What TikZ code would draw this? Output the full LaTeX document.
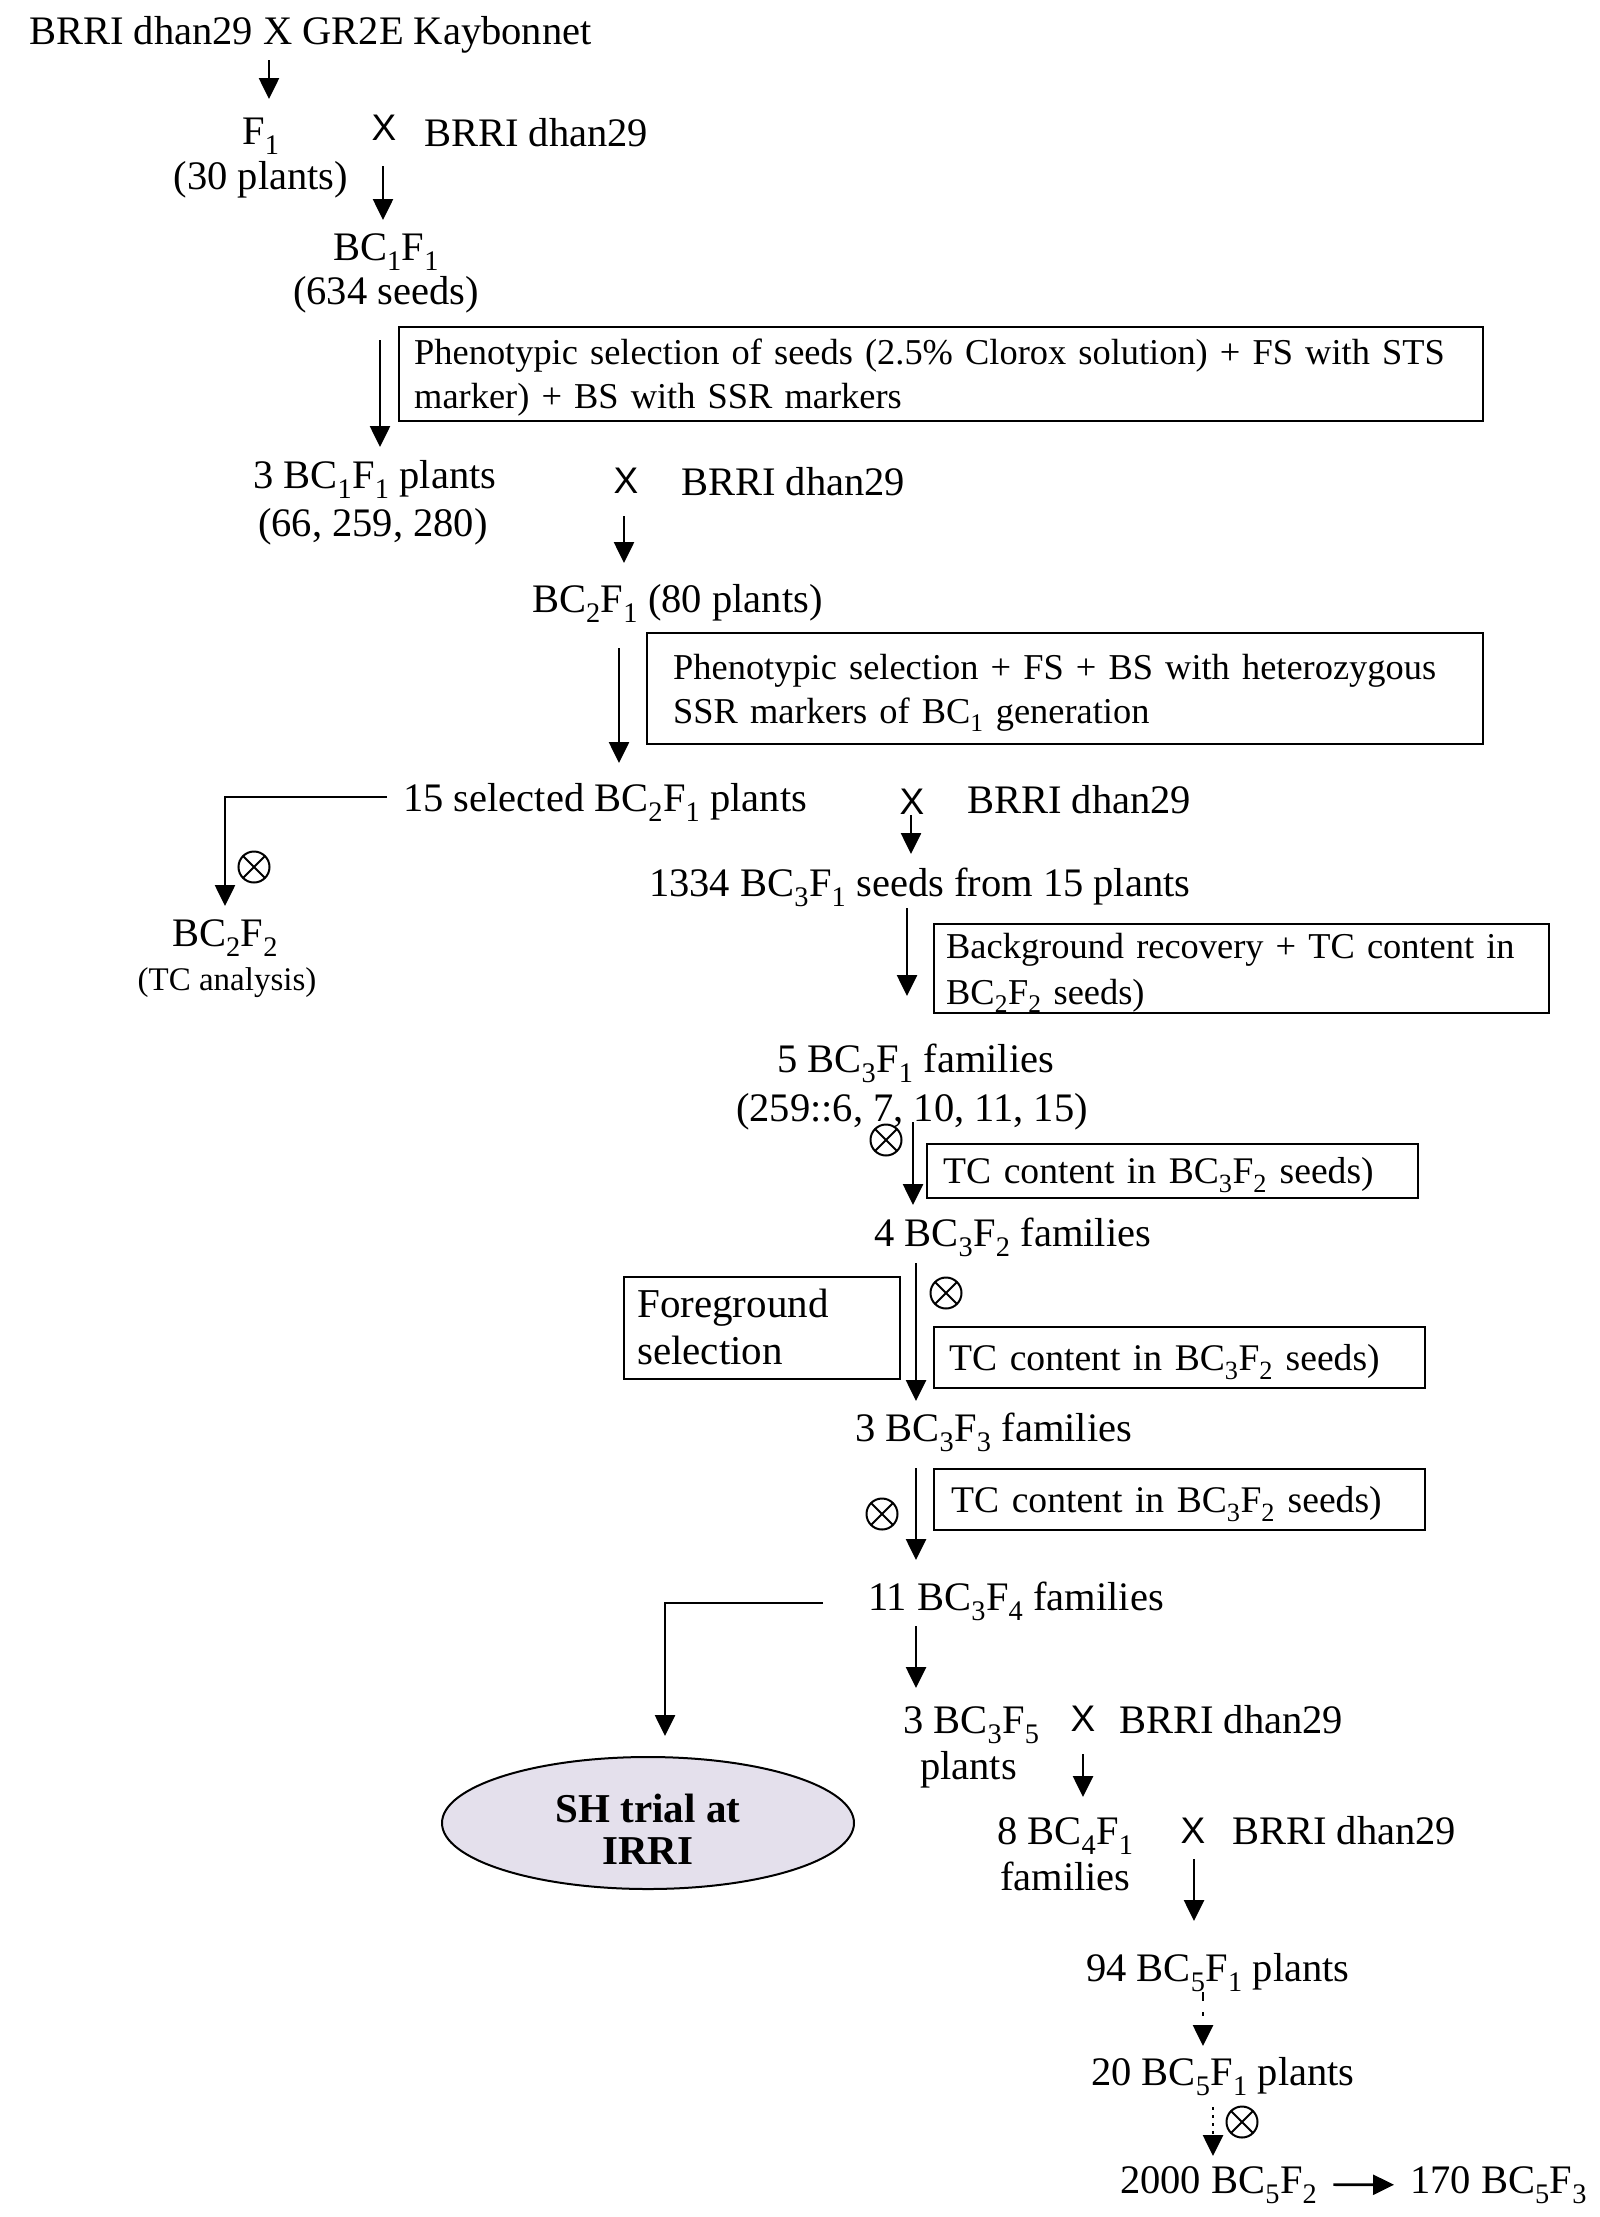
\documentclass[tikz,border=0pt]{standalone}
\usepackage{fontspec}
\setmainfont{Liberation Serif}
\newfontfamily\xsans{Liberation Sans}
\usetikzlibrary{arrows.meta,shapes.geometric,calc}
\definecolor{ellfill}{RGB}{228,224,236}
\newcommand{\sbs}[1]{\textsubscript{#1}}
\newcommand{\bst}{\rule[-9pt]{0pt}{43pt}}
\begin{document}
\begin{tikzpicture}[x=1pt,y=-1pt,
  lbl/.style={inner sep=0pt, font=\fontsize{40.5}{48}\selectfont},
  lbltwo/.style={inner sep=0pt, align=center, anchor=north},
  small/.style={inner sep=0pt, font=\fontsize{33}{38}\selectfont},
  boxa/.style={draw, line width=2.4pt, inner ysep=0pt, align=left, anchor=north west, font=\fontsize{36.4}{44}\selectfont},
  boxb/.style={boxa, font=\fontsize{37.6}{46}\selectfont},
  boxc/.style={boxa, font=\fontsize{41}{47}\selectfont},
  arr/.style={line width=2.6pt, -{Triangle[length=21pt,width=20pt]}},
  crossx/.style={inner sep=0pt, font=\xsans\fontsize{37}{38}\selectfont},
  selfing/.style={circle, draw, line width=2pt, minimum size=31pt, inner sep=0pt,
    path picture={\draw[line width=2pt] (path picture bounding box.north west) -- (path picture bounding box.south east)
      (path picture bounding box.north east) -- (path picture bounding box.south west);}},
  sh/.style={ellipse, draw, line width=2pt, fill=ellfill, minimum width=412pt, minimum height=132pt, inner sep=0pt,
    align=center, font=\bfseries\fontsize{41}{42}\selectfont}
]
\fill[white] (0,0) rectangle (1600,2217);
\useasboundingbox (0,0) rectangle (1600,2217);

% ---- top
\node[lbl, anchor=base west] (top) at (29,44) {BRRI dhan29 X GR2E Kaybonnet};
\coordinate (a1s) at (269,60); \coordinate (a1e) at (269,99);
\draw[arr] (a1s) -- (a1e);
\node[lbltwo, font=\fontsize{40.5}{45}\selectfont] (f1) at (261,114) {\rule{0pt}{30pt}F\sbs{1}\\(30 plants)};
\node[crossx] (x1) at (384,128) {X};
\node[lbl, anchor=base west] (p1) at (424,146) {BRRI dhan29};
\coordinate (a2s) at (383,166); \coordinate (a2e) at (383,220);
\draw[arr] (a2s) -- (a2e);
\node[lbltwo, font=\fontsize{40.5}{44}\selectfont] (bc1) at (386,230) {\rule{0pt}{30pt}BC\sbs{1}F\sbs{1}\\(634 seeds)};

% ---- box 1
\node[boxa, inner xsep=15pt, text width=1054pt, minimum width=1084pt, minimum height=94pt] (box1) at (398,326)
  {\bst Phenotypic selection of seeds (2.5\% Clorox solution) + FS with STS\\\bst marker) + BS with SSR markers};
\coordinate (a3s) at (380,340); \coordinate (a3e) at (380,447);
\draw[arr] (a3s) -- (a3e);
\node[lbl, anchor=base west] (bc1p) at (253,488) {3 BC\sbs{1}F\sbs{1} plants};
\node[lbl, anchor=base west] (bc1pn) at (258,536) {(66, 259, 280)};
\node[crossx] (x2) at (626,481) {X};
\node[lbl, anchor=base west] (p2) at (681,495) {BRRI dhan29};
\coordinate (a4s) at (624,516); \coordinate (a4e) at (624,563);
\draw[arr] (a4s) -- (a4e);
\node[lbl, anchor=base west] (bc2) at (532,612) {BC\sbs{2}F\sbs{1} (80 plants)};

% ---- box 2
\node[boxa, inner xsep=26pt, text width=784pt, minimum width=836pt, minimum height=111pt] (box2) at (646,632)
  {\bst Phenotypic selection + FS + BS with heterozygous\\\bst SSR markers of BC\sbs{1} generation};
\coordinate (a5s) at (619,648); \coordinate (a5e) at (619,763);
\draw[arr] (a5s) -- (a5e);
\node[lbl, anchor=base west] (sel) at (403,811) {15 selected BC\sbs{2}F\sbs{1} plants};
\coordinate (e1s) at (387,797); \coordinate (e1e) at (225,906);
\draw[arr] (e1s) -| (e1e);
\node[selfing] (s1) at (254,867) {};
\node[lbl, anchor=base] (bc2f2) at (225,946) {BC\sbs{2}F\sbs{2}};
\node[small, anchor=base] (tca) at (227,990) {(TC analysis)};
\node[crossx] (x3) at (912,802) {X};
\node[lbl, anchor=base west] (p3) at (967,813) {BRRI dhan29};
\coordinate (a6s) at (911,815); \coordinate (a6e) at (911,854);
\draw[arr] (a6s) -- (a6e);
\node[lbl, anchor=base west] (bc3) at (649,896) {1334 BC\sbs{3}F\sbs{1} seeds from 15 plants};

% ---- box 3
\node[boxa, inner xsep=12pt, text width=591pt, minimum width=615pt, minimum height=89pt, font=\fontsize{36.4}{46}\selectfont] (box3) at (933,923)
  {\bst Background recovery + TC content in\\\bst BC\sbs{2}F\sbs{2} seeds)};
\coordinate (a7s) at (907,908); \coordinate (a7e) at (907,996);
\draw[arr] (a7s) -- (a7e);
\node[lbl, anchor=base west] (fam5) at (777,1072) {5 BC\sbs{3}F\sbs{1} families};
\node[lbl, anchor=base west] (fam5n) at (736,1121) {(259::6, 7, 10, 11, 15)};
\coordinate (a8s) at (913,1122); \coordinate (a8e) at (913,1205);
\draw[arr] (a8s) -- (a8e);
\node[selfing] (s2) at (886,1140) {};
\node[boxb, inner xsep=16pt, text width=459pt, minimum width=491pt, minimum height=54pt] (box4) at (926,1143)
  {\bst TC content in BC\sbs{3}F\sbs{2} seeds)};
\node[lbl, anchor=base west] (fam4) at (874,1246) {4 BC\sbs{3}F\sbs{2} families};

% ---- foreground / box 5
\coordinate (a9s) at (916,1263); \coordinate (a9e) at (916,1401);
\draw[arr] (a9s) -- (a9e);
\node[selfing] (s3) at (946,1293) {};
\node[boxc, inner xsep=13pt, text width=250pt, minimum width=276pt, minimum height=102pt] (fg) at (623,1276)
  {\bst Foreground\\\bst selection};
\node[boxb, inner xsep=15pt, text width=461pt, minimum width=491pt, minimum height=61pt] (box5) at (933,1326)
  {\bst TC content in BC\sbs{3}F\sbs{2} seeds)};
\node[lbl, anchor=base west] (fam3) at (855,1441) {3 BC\sbs{3}F\sbs{3} families};

% ---- box 6
\node[boxb, inner xsep=17pt, text width=457pt, minimum width=491pt, minimum height=61pt] (box6) at (933,1468)
  {\bst TC content in BC\sbs{3}F\sbs{2} seeds)};
\node[selfing] (s4) at (882,1514) {};
\coordinate (a10s) at (916,1468); \coordinate (a10e) at (916,1560);
\draw[arr] (a10s) -- (a10e);
\node[lbl, anchor=base west] (fam11) at (868,1610) {11 BC\sbs{3}F\sbs{4} families};
\coordinate (e2s) at (823,1603); \coordinate (e2e) at (665,1736);
\draw[arr] (e2s) -| (e2e);
\coordinate (a11s) at (916,1626); \coordinate (a11e) at (916,1688);
\draw[arr] (a11s) -- (a11e);

% ---- SH trial
\node[sh] (shtrial) at (648,1823) {\rule{0pt}{41pt}SH trial at\\IRRI};

% ---- BC3F5 etc.
\node[lbl, anchor=base west] (bc35) at (903,1733) {3 BC\sbs{3}F\sbs{5}};
\node[crossx] (x4) at (1083,1719) {X};
\node[lbl, anchor=base west] (p4) at (1119,1733) {BRRI dhan29};
\node[lbl, anchor=base west] (bc35n) at (920,1779) {plants};
\coordinate (a12s) at (1083,1754); \coordinate (a12e) at (1083,1797);
\draw[arr] (a12s) -- (a12e);
\node[lbl, anchor=base west] (bc41) at (997,1844) {8 BC\sbs{4}F\sbs{1}};
\node[crossx] (x5) at (1193,1831) {X};
\node[lbl, anchor=base west] (p5) at (1232,1844) {BRRI dhan29};
\node[lbl, anchor=base west] (bc41n) at (1000,1890) {families};
\coordinate (a13s) at (1194,1859); \coordinate (a13e) at (1194,1921);
\draw[arr] (a13s) -- (a13e);
\node[lbl, anchor=base west] (bc51a) at (1086,1981) {94 BC\sbs{5}F\sbs{1} plants};
\coordinate (a14s) at (1203,1992); \coordinate (a14e) at (1203,2046);
\draw[arr, dash pattern=on 9pt off 11pt on 4pt off 20pt] (a14s) -- (a14e);
\node[lbl, anchor=base west] (bc51b) at (1091,2085) {20 BC\sbs{5}F\sbs{1} plants};
\coordinate (a15s) at (1213,2107); \coordinate (a15e) at (1213,2156);
\draw[arr, dash pattern=on 3pt off 5pt] (a15s) -- (a15e);
\node[selfing] (s5) at (1242,2122) {};
\node[lbl, anchor=base west] (bc52) at (1120,2193) {2000 BC\sbs{5}F\sbs{2}};
\node[lbl, anchor=base west] (bc53) at (1410,2193) {170 BC\sbs{5}F\sbs{3}};
\coordinate (a16s) at ($(bc52.east)+(16,0)$);
\coordinate (a16e) at ($(bc53.west)+(-16,0)$);
\draw[arr] (a16s) -- (a16e);
\end{tikzpicture}
\end{document}
